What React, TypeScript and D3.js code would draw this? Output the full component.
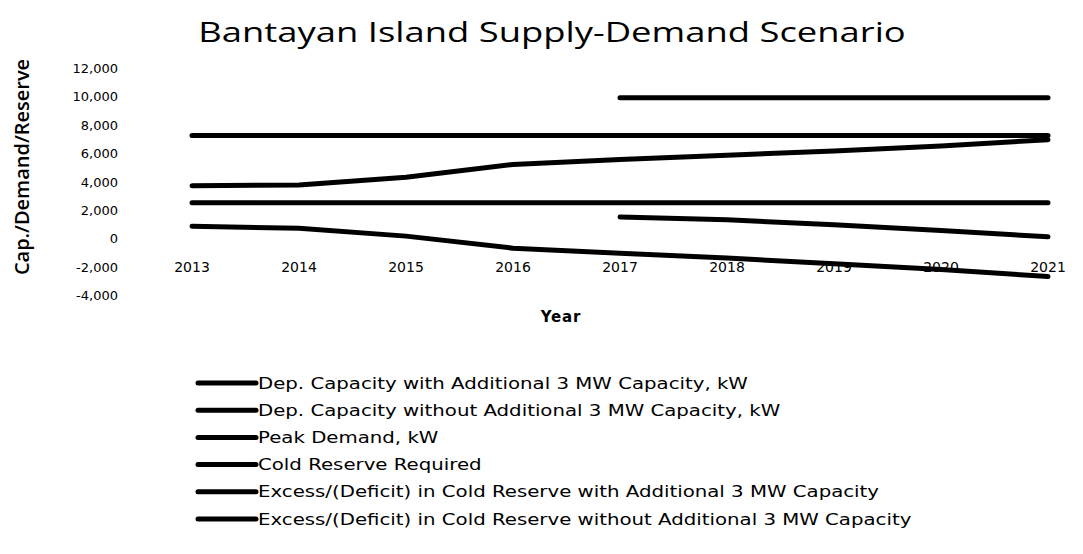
import * as d3 from "d3";
import React from "react";

// years on the category axis
const years = ["2013", "2014", "2015", "2016", "2017", "2018", "2019", "2020", "2021"];
const yTicks = [-4000, -2000, 0, 2000, 4000, 6000, 8000, 10000, 12000];

// kW values; null = no value for that year
const depCapWith3MW = [null, null, null, null, 9900, 9900, 9900, 9900, 9900];
const depCapWithout3MW = [7250, 7250, 7250, 7250, 7250, 7250, 7250, 7250, 7250];
const peakDemand = [3700, 3750, 4300, 5200, 5550, 5850, 6150, 6500, 6950];
const coldReserve = [2500, 2500, 2500, 2500, 2500, 2500, 2500, 2500, 2500];
const excessWith3MW = [null, null, null, null, 1500, 1300, 950, 550, 100];
const excessWithout3MW = [850, 700, 150, -700, -1050, -1400, -1800, -2200, -2700];

const seriesNames = [
  "Dep. Capacity with Additional 3 MW Capacity, kW",
  "Dep. Capacity without Additional 3 MW Capacity, kW",
  "Peak Demand, kW",
  "Cold Reserve Required",
  "Excess/(Deficit) in Cold Reserve with Additional 3 MW Capacity",
  "Excess/(Deficit) in Cold Reserve without Additional 3 MW Capacity",
];
const seriesValues = [depCapWith3MW, depCapWithout3MW, peakDemand, coldReserve, excessWith3MW, excessWithout3MW];

const width = 1083;
const height = 554;
const labelFont = "'DejaVu Sans', Verdana, sans-serif";
// the source picture is stretched sideways, so text is widened to match
const stretch = 1.3;

export default function App() {
  const x = d3.scalePoint<string>().domain(years).range([192, 1048]);
  const y = d3.scaleLinear().domain([-4000, 12000]).range([295, 68]);
  const fmt = d3.format(",");

  const line = d3
    .line<number | null>()
    .defined((d) => d !== null)
    .x((_, i) => x(years[i]) as number)
    .y((d) => y(d as number));

  return (
    <svg width={width} height={height} style={{ position: "absolute", left: 0, top: 0, background: "#fff" }}>
      <rect width={width} height={height} fill="#fff" />
      <text
        transform={`translate(552, 42) scale(${stretch}, 1)`}
        textAnchor="middle"
        fontFamily="'Open Sans', sans-serif"
        fontSize={28}
        fill="#000"
      >
        Bantayan Island Supply-Demand Scenario
      </text>

      <text
        transform={`translate(29, 167) rotate(-90)`}
        textAnchor="middle"
        fontFamily="'Open Sans', sans-serif"
        fontWeight={600}
        fontSize={20}
        fill="#000"
      >
        Cap./Demand/Reserve
      </text>

      {yTicks.map((t) => (
        <text key={t} x={118} y={y(t) + 5} textAnchor="end" fontFamily={labelFont} fontSize={13} fill="#000">
          {fmt(t).replace("−", "-")}
        </text>
      ))}

      {seriesValues.map((vals, i) => (
        <path key={i} d={line(vals) ?? ""} fill="none" stroke="#000" strokeWidth={5} strokeLinecap="round" strokeLinejoin="round" />
      ))}

      {years.map((yr) => (
        <text key={yr} x={x(yr)} y={y(-2000) + 5} textAnchor="middle" fontFamily={labelFont} fontSize={14} fill="#000">
          {yr}
        </text>
      ))}

      <text x={561} y={322} textAnchor="middle" fontFamily={labelFont} fontWeight="bold" fontSize={15} letterSpacing={0.8} fill="#000">
        Year
      </text>

      {seriesNames.map((name, i) => {
        const cy = 383 + i * 27.2;
        return (
          <g key={name}>
            <line x1={198} x2={256} y1={cy} y2={cy} stroke="#000" strokeWidth={5} strokeLinecap="round" />
            <text
              transform={`translate(258, ${cy + 5.5}) scale(${stretch}, 1)`}
              fontFamily={labelFont}
              fontSize={15.2}
              fill="#000"
            >
              {name}
            </text>
          </g>
        );
      })}
    </svg>
  );
}
